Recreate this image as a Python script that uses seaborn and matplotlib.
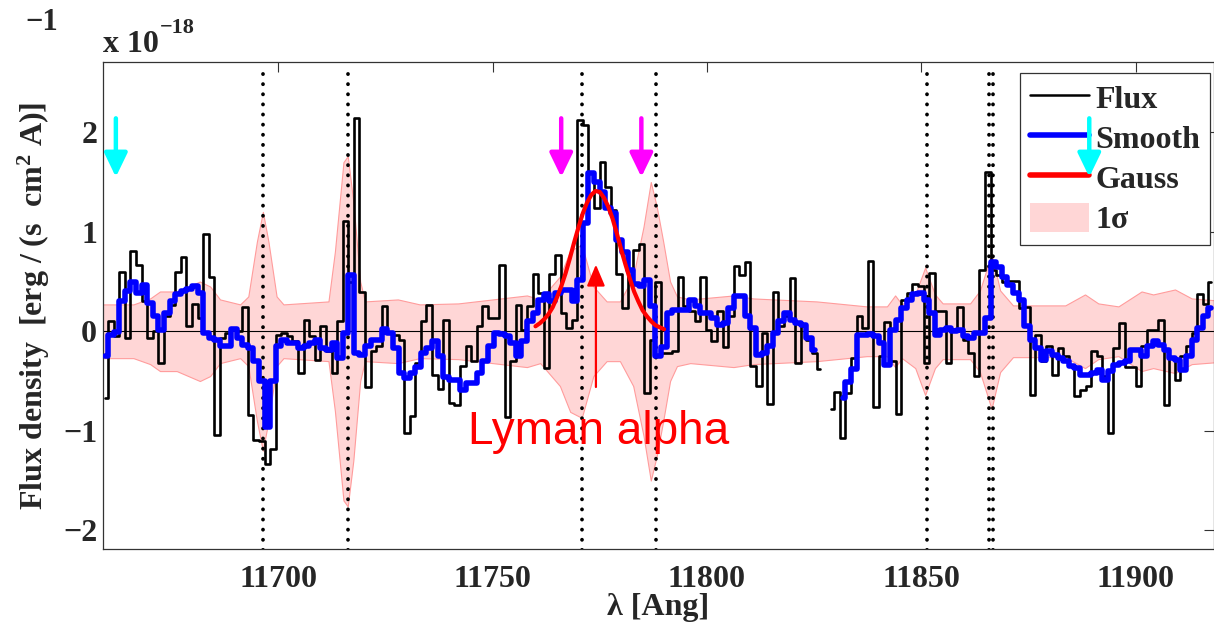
import numpy as np
import pandas as pd
import matplotlib
matplotlib.use('Agg')
import matplotlib.pyplot as plt
import seaborn as sns
from matplotlib.lines import Line2D
from matplotlib.patches import Patch

# spectrum binning (MOSFIRE J, ~1.3 A per pixel)
WAVE_START = 11659.65
BIN_WIDTH = 1.303

# observed flux per bin, 1e-18 erg/s/cm2/A (nan = masked pixel)
flux = [-0.67, 0.10, -0.05, 0.60, -0.07, 0.81, 0.67, 0.30, -0.07, 0.00,
        -0.32, 0.15, 0.26, 0.60, 0.75, 0.05, 0.27, 0.13, 0.98, 0.55,
        -1.04, -0.07, -0.02, 0.01, 0.00, 0.24, -0.84, -1.09, -1.10, -1.33,
        -1.18, -0.04, -0.02, -0.05, -0.10, -0.42, 0.11, -0.05, -0.29, 0.05,
        -0.20, -0.42, 0.10, 1.11, 0.50, 2.14, 0.39, -0.56, -0.20, -0.15,
        0.25, -0.02, -0.04, -0.09, -1.02, -0.85, -0.32, 0.10, 0.26, -0.44,
        -0.58, 0.11, -0.72, -0.74, -0.35, -0.15, -0.30, 0.05, 0.25, 0.13,
        0.13, 0.67, -0.86, -0.30, 0.26, 0.01, 0.25, 0.58, 0.38, -0.37,
        0.58, 0.77, 0.18, 0.03, 0.11, 2.12, 2.07, 1.60, 1.24, 1.70,
        1.45, 1.22, 0.58, 0.23, 0.55, 0.82, 0.88, -0.62, -0.09, 0.50,
        -0.22, -0.22, -0.20, 0.55, 0.25, 0.20, 0.10, 0.55, 0.01, -0.10,
        0.20, -0.16, 0.15, 0.66, 0.57, 0.70, -0.35, -0.55, -0.02, -0.73,
        0.39, 0.05, 0.15, 0.54, -0.32, 0.05, -0.09, -0.22, -0.38, np.nan,
        -0.78, -0.61, -1.07, -0.62, -0.27, 0.15, 0.03, 0.71, -0.76, -0.25,
        0.09, -0.30, -0.83, 0.31, 0.38, 0.48, 0.45, -0.32, 0.59, 0.20,
        0.20, -0.32, 0.00, 0.24, -0.09, -0.22, -0.45, 0.62, 1.60, 0.62,
        0.57, 0.50, 0.51, 0.51, 0.23, 0.24, -0.64, -0.04, -0.30, -0.15,
        -0.44, -0.17, -0.25, -0.35, -0.65, -0.59, -0.55, -0.20, -0.25, -0.45,
        -1.02, -0.17, 0.08, -0.36, -0.36, -0.55, -0.15, 0.01, 0.01, 0.11,
        -0.74, -0.27, -0.49, -0.25, -0.15, -0.02, 0.37, 0.27, 0.50]

# smoothed flux per bin
smooth = [-0.25, -0.04, -0.01, 0.30, 0.40, 0.50, 0.38, 0.47, 0.28, 0.15,
          0.01, 0.18, 0.30, 0.37, 0.40, 0.42, 0.45, 0.38, -0.02, -0.07,
          -0.09, -0.15, -0.15, 0.02, -0.07, -0.14, -0.17, -0.30, -0.50, -0.96,
          -0.50, -0.15, -0.09, -0.12, -0.12, -0.17, -0.15, -0.12, -0.09, -0.17,
          -0.19, -0.12, -0.27, -0.02, 0.57, -0.22, -0.24, -0.15, -0.09, -0.09,
          0.02, -0.02, -0.17, -0.42, -0.47, -0.42, -0.36, -0.22, -0.17, -0.10,
          -0.25, -0.46, -0.49, -0.49, -0.59, -0.52, -0.52, -0.42, -0.30, -0.15,
          -0.02, -0.03, -0.05, -0.12, -0.25, -0.10, 0.10, 0.18, 0.31, 0.37,
          0.30, 0.38, 0.41, 0.41, 0.30, 0.52, 1.09, 1.59, 1.50, 1.40,
          1.24, 1.19, 0.92, 0.80, 0.62, 0.48, 0.45, 0.52, 0.25, -0.25,
          -0.16, 0.18, 0.21, 0.21, 0.21, 0.31, 0.25, 0.18, 0.18, 0.13,
          0.06, 0.08, 0.23, 0.35, 0.35, 0.15, 0.03, -0.24, -0.22, -0.15,
          -0.02, 0.10, 0.18, 0.11, 0.08, 0.06, -0.07, -0.19, np.nan, np.nan,
          np.nan, np.nan, -0.67, -0.51, -0.38, -0.04, -0.04, -0.03, -0.05, -0.12,
          -0.34, 0.01, 0.11, 0.23, 0.31, 0.37, 0.38, 0.31, 0.18, -0.04,
          0.01, 0.03, 0.00, 0.01, -0.05, -0.07, -0.02, -0.02, 0.13, 0.70,
          0.65, 0.55, 0.47, 0.38, 0.31, 0.05, -0.09, -0.17, -0.29, -0.20,
          -0.24, -0.27, -0.30, -0.35, -0.37, -0.44, -0.44, -0.42, -0.39, -0.49,
          -0.40, -0.34, -0.32, -0.30, -0.19, -0.19, -0.25, -0.15, -0.10, -0.14,
          -0.19, -0.27, -0.29, -0.39, -0.25, -0.09, 0.03, 0.15, 0.23]

sig_wave = [11658.0, 11666.2, 11670.1, 11672.4, 11676.3, 11681.7, 11684.1, 11686.4,
            11691.1, 11693.0, 11695.0, 11696.4, 11697.7, 11699.6, 11701.2, 11711.7,
            11713.2, 11715.2, 11716.2, 11717.5, 11719.1, 11720.2, 11727.9, 11733.0,
            11742.0, 11750.0, 11758.0, 11761.1, 11765.7, 11768.1, 11770.8, 11773.5,
            11776.6, 11779.7, 11782.8, 11785.2, 11786.9, 11788.3, 11789.8, 11791.4,
            11793.0, 11796.1, 11806.2, 11810.8, 11825.6, 11837.3, 11842.0, 11843.9,
            11845.5, 11848.6, 11850.9, 11853.2, 11855.0, 11861.4, 11863.7, 11866.4,
            11868.4, 11871.4, 11883.6, 11888.2, 11891.3, 11896.0, 11901.4, 11904.1,
            11909.2, 11913.1, 11919.0]
sig_val = [0.27, 0.27, 0.33, 0.40, 0.40, 0.50, 0.45, 0.32,
           0.27, 0.35, 0.90, 1.20, 0.90, 0.35, 0.27, 0.30,
           0.80, 1.70, 1.76, 1.30, 0.50, 0.30, 0.32, 0.27,
           0.28, 0.32, 0.36, 0.32, 0.55, 0.81, 0.87, 0.45,
           0.30, 0.30, 0.55, 1.05, 1.50, 1.25, 0.90, 0.50,
           0.35, 0.32, 0.36, 0.33, 0.30, 0.25, 0.25, 0.36,
           0.27, 0.37, 0.64, 0.37, 0.28, 0.28, 0.41, 0.78,
           0.41, 0.26, 0.26, 0.37, 0.28, 0.25, 0.40, 0.37,
           0.42, 0.33, 0.31]

# gaussian fit to the line
gauss_wave = list(range(11760, 11791))
gauss_val = [0.05, 0.08, 0.12, 0.17, 0.24, 0.34, 0.45, 0.58, 0.73, 0.89,
             1.04, 1.18, 1.29, 1.37, 1.41, 1.40, 1.34, 1.25, 1.13, 0.98,
             0.82, 0.67, 0.53, 0.40, 0.30, 0.21, 0.15, 0.10, 0.06, 0.04, 0.02]

sky_lines = [11696.5, 11716.2, 11770.8, 11788.1, 11851.4, 11865.8, 11866.8]
magenta_marks = [11766.0, 11784.7]
cyan_marks = [11662.1, 11889.2]
lya_wave = 11774.1

sns.set_style('white')
plt.rcParams['font.family'] = ['Liberation Serif', 'DejaVu Serif']
plt.rcParams['font.weight'] = 'bold'
plt.rcParams['mathtext.fontset'] = 'custom'
plt.rcParams['mathtext.rm'] = 'Liberation Serif:bold'
plt.rcParams['mathtext.it'] = 'Liberation Serif:bold'
plt.rcParams['mathtext.bf'] = 'Liberation Serif:bold'

W, H = 1214, 626
fig = plt.figure(figsize=(W / 100, H / 100), dpi=100)
ax = fig.add_axes([102.7 / W, 76.7 / H, (W - 102.7) / W, 487.3 / H])

df = pd.DataFrame({'wave': WAVE_START + BIN_WIDTH * np.arange(len(flux)),
                   'flux': flux, 'smooth': smooth})
df['fseg'] = df['flux'].isna().cumsum()
df['sseg'] = df['smooth'].isna().cumsum()

# noise band and zero line
ax.fill_between(sig_wave, -np.array(sig_val), sig_val, facecolor='#ffd6d6',
                edgecolor='#ff9c9c', lw=0.8, zorder=1)
ax.axhline(0, color='black', lw=0.8, zorder=2)

# sky lines
ax.vlines(sky_lines, -2.2, 2.61, colors='black', lw=2.7,
          linestyles=[(0, (0.05, 2.65))], capstyle='round', zorder=4)

sns.lineplot(data=df.dropna(subset=['flux']), x='wave', y='flux', units='fseg',
             estimator=None, color='black', lw=1.9, drawstyle='steps-mid',
             ax=ax, zorder=3)
sns.lineplot(data=df.dropna(subset=['smooth']), x='wave', y='smooth', units='sseg',
             estimator=None, color='#0000ff', lw=4, drawstyle='steps-mid',
             ax=ax, zorder=5)
sns.lineplot(x=gauss_wave, y=gauss_val, color='#ff0000', lw=3, ax=ax, zorder=6)

ax.set_xlim(11659.03, 11918.3)
ax.set_ylim(-2.191, 2.706)
ax.set_xticks([11700, 11750, 11800, 11850, 11900])
ax.set_yticks([-2, -1, 0, 1, 2])
ax.tick_params(direction='in', length=7.5, width=0.8, top=True, right=True,
               labelsize=23, color='#333333')
ax.tick_params(axis='x', pad=11)
ax.tick_params(axis='y', pad=4)
for lab in ax.get_xticklabels() + ax.get_yticklabels():
    lab.set_fontweight('bold')
for sp in ax.spines.values():
    sp.set_color('#333333')
    sp.set_linewidth(0.9)

ax.set_xlabel('λ [Ang]', fontsize=23, fontweight='bold')
ax.set_ylabel('Flux density  [erg / (s  cm$^2$ A)]', fontsize=23, fontweight='bold')
ax.xaxis.set_label_coords(0.5, -0.09)
ax.yaxis.set_label_coords(-0.046, 0.5)

# arrows
ax.annotate('', xy=(lya_wave, 0.67), xytext=(lya_wave, -0.56), zorder=8,
            arrowprops=dict(arrowstyle='-|>,head_length=1.3,head_width=0.55',
                            mutation_scale=10, lw=1.6, color='#ff0000',
                            shrinkA=0, shrinkB=0))
for wl in magenta_marks:
    ax.annotate('', xy=(wl, 1.55), xytext=(wl, 2.14), zorder=8,
                arrowprops=dict(arrowstyle='-|>,head_length=1.45,head_width=0.7',
                                mutation_scale=10, lw=3.2, color='#ff00ff',
                                shrinkA=0, shrinkB=0))
for wl in cyan_marks:
    ax.annotate('', xy=(wl, 1.55), xytext=(wl, 2.14), zorder=8,
                arrowprops=dict(arrowstyle='-|>,head_length=1.45,head_width=0.7',
                                mutation_scale=10, lw=3.2, color='#00ffff',
                                shrinkA=0, shrinkB=0))

ax.text(11744.3, -1.133, 'Lyman alpha', color='#ff0000', fontsize=33,
        family='Liberation Sans', fontweight='normal', ha='left', va='baseline',
        zorder=8)

handles = [Line2D([], [], color='black', lw=1.8),
           Line2D([], [], color='#0000ff', lw=4),
           Line2D([], [], color='#ff0000', lw=4),
           Patch(facecolor='#ffd6d6', edgecolor='none')]
leg = ax.legend(handles, ['Flux', 'Smooth', 'Gauss', '1σ'], loc='upper right',
                bbox_to_anchor=(0.9964, 0.978), frameon=True, fancybox=False,
                prop=dict(family='Liberation Serif', weight='bold', size=23),
                handlelength=1.85, handleheight=1.0, handletextpad=0.2,
                labelspacing=0.25, borderpad=0.3, borderaxespad=0)
leg.get_frame().set_edgecolor('#333333')
leg.get_frame().set_linewidth(0.9)
leg.get_frame().set_alpha(1)
leg.set_zorder(7)

# scale factor text at the top left
fig.text(25 / W, 1 - 30 / H, '−1', fontsize=22, fontweight='bold', va='baseline')
fig.text(103 / W, 1 - 52 / H, 'x 10', fontsize=23, fontweight='bold', va='baseline')
fig.text(160 / W, 1 - 33 / H, '−18', fontsize=16, fontweight='bold', va='baseline')

fig.savefig('out.png', dpi=100)
